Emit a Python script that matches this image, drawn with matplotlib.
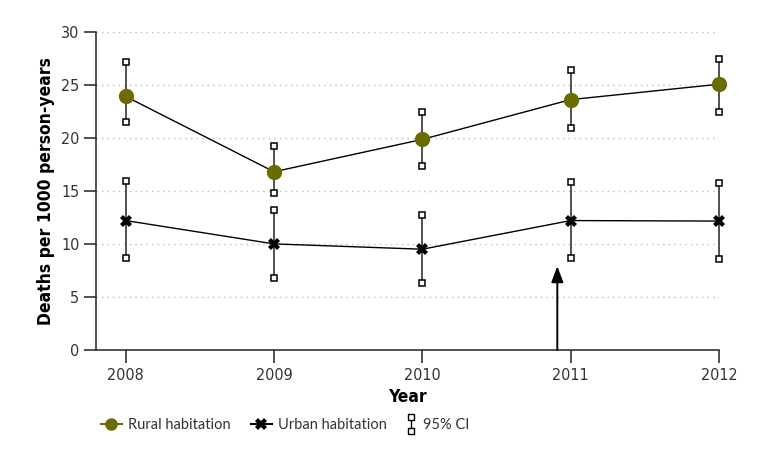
import numpy as np
import matplotlib.pyplot as plt
from matplotlib.lines import Line2D
from matplotlib.legend_handler import HandlerBase
from matplotlib import font_manager

years = [2008, 2009, 2010, 2011, 2012]

rural = [23.9, 16.8, 19.85, 23.6, 25.05]
rural_lo = [21.5, 14.8, 17.35, 20.9, 22.4]
rural_hi = [27.1, 19.2, 22.4, 26.4, 27.4]

urban = [12.2, 10.0, 9.5, 12.2, 12.15]
urban_lo = [8.7, 6.75, 6.3, 8.7, 8.6]
urban_hi = [15.9, 13.15, 12.7, 15.85, 15.75]

arrow_x = 2010.91
arrow_top = 7.9

names = {f.name for f in font_manager.fontManager.ttflist}
cond = [n for n in ['Liberation Sans Narrow', 'DejaVu Sans Condensed'] if n in names]
plt.rcParams['font.family'] = cond + ['DejaVu Sans']
plt.rcParams['font.stretch'] = 'condensed'

olive = '#6b6b00'
dark = '#333333'

fig = plt.figure(figsize=(7.71, 4.54), dpi=100)
ax = fig.add_axes([96/771, 1-350/454, (719-96)/771, (350-31.7)/454])

for y in range(5, 31, 5):
    ax.axhline(y, color='#bbbbbb', lw=1, ls=(0, (1, 3)), zorder=0)

def ci(lo, hi):
    for x, a, b in zip(years, lo, hi):
        ax.plot([x, x], [a, b], color='#222222', lw=1.1, zorder=2, clip_on=False)
        ax.plot([x, x], [a, b], ls='none', marker='s', ms=5, mfc='white',
                mec='black', mew=1.1, zorder=3, clip_on=False)

ci(rural_lo, rural_hi)
ci(urban_lo, urban_hi)

ax.plot(years, rural, color='black', lw=1, zorder=4)
ax.plot(years, rural, ls='none', marker='o', ms=10, color=olive, zorder=5, clip_on=False)
ax.plot(years, urban, color='black', lw=1, zorder=4)
ax.plot(years, urban, ls='none', marker='X', ms=9, color='black', mew=0, zorder=5, clip_on=False)

ax.annotate('', xy=(arrow_x, arrow_top), xytext=(arrow_x, 0),
            arrowprops=dict(arrowstyle='-|>,head_length=0.8,head_width=0.3', color='black', lw=1.4,
                            mutation_scale=12, shrinkA=0, shrinkB=0))

ax.set_xlim(2007.8, 2012)
ax.set_ylim(0, 30)
ax.set_xticks(years)
ax.set_yticks(range(0, 31, 5))
ax.spines['top'].set_visible(False)
ax.spines['right'].set_visible(False)
for s in ('left', 'bottom'):
    ax.spines[s].set_linewidth(1.2)
    ax.spines[s].set_color(dark)
ax.tick_params(axis='both', length=9, width=1.2, labelsize=11.5, color=dark, labelcolor=dark)
ax.tick_params(axis='x', pad=4)
ax.tick_params(axis='y', pad=3)
ax.set_xlabel('Year', fontsize=12.5, fontweight='bold')
ax.xaxis.set_label_coords(0.5, -0.12)
ax.set_ylabel('Deaths per 1000 person-years', fontsize=12.5, fontweight='bold')
ax.yaxis.set_label_coords(-0.066, 0.5)


class CIHandler(HandlerBase):
    def create_artists(self, legend, orig_handle, xd, yd, w, h, fontsize, trans):
        cx = xd + w / 2
        y0, y1 = yd - 1.5, yd + h + 1.5
        line = Line2D([cx, cx], [y0, y1], color='black', lw=1, transform=trans)
        sq = Line2D([cx, cx], [y0, y1], ls='none', marker='s', ms=4,
                    mfc='white', mec='black', mew=1, transform=trans)
        return [line, sq]


legfont = {'family': ['Lato', 'DejaVu Sans'], 'size': 10.5, 'stretch': 'normal'}

h_rural = Line2D([], [], color=olive, marker='o', ms=8, lw=1.5)
h_urban = Line2D([], [], color='black', marker='X', ms=8, lw=1.5, mew=0)
leg = fig.legend([h_rural, h_urban], ['Rural habitation', 'Urban habitation'],
                 loc='center left', bbox_to_anchor=(88/771, 1-425/454), ncol=2, frameon=False,
                 handlelength=1.4, handletextpad=0.45, columnspacing=1.4, prop=legfont)
for t in leg.get_texts():
    t.set_color(dark)

h_ci = object()
leg2 = fig.legend([h_ci], ['95% CI'], handler_map={object: CIHandler()},
                  loc='center left', bbox_to_anchor=(394/771, 1-425/454), frameon=False,
                  handlelength=0.6, handletextpad=0.5, prop=legfont)
for t in leg2.get_texts():
    t.set_color(dark)

fig.savefig('out.png', dpi=100)
